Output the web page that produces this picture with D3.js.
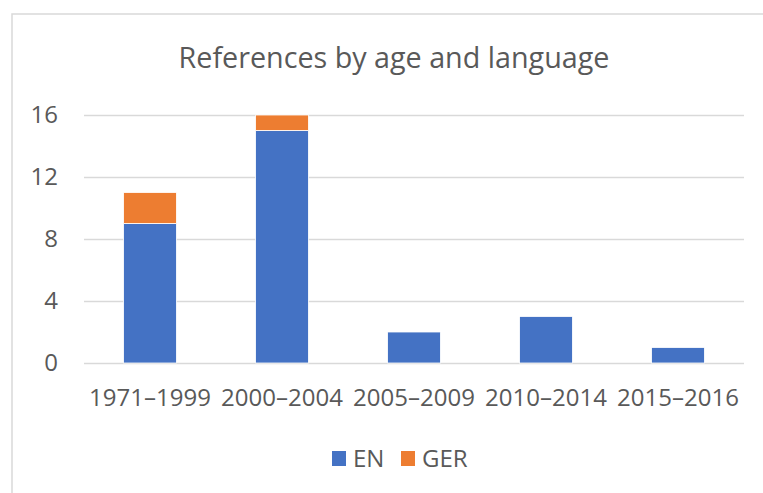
<!DOCTYPE html>
<html><head><meta charset="utf-8">
<script src="https://cdn.jsdelivr.net/npm/d3@7"></script>
<style>body{margin:0;background:#fff}svg{display:block}text{font-family:"Open Sans",sans-serif;fill:#595959}</style>
</head><body><svg id="c" width="763" height="493"></svg>
<script>
const categories = ["1971–1999","2000–2004","2005–2009","2010–2014","2015–2016"];
const seriesNames = ["EN","GER"];
const EN = [9,15,2,3,1];
const GER = [2,1,0,0,0];
const yTicks = [0,4,8,12,16];
const colors = ["#4472C4","#ED7D31"];

const svg = d3.select("#c");
svg.append("rect").attr("x",12).attr("y",14).attr("width",800).attr("height",600)
  .attr("fill","#fff").attr("stroke","#d9d9d9").attr("stroke-width",1.5);

const x = d3.scaleBand().domain(categories).range([84,744]).paddingInner(0.6).paddingOuter(0.3);
const y = d3.scaleLinear().domain([0,16]).range([363,115]);

const title = svg.append("text").attr("x",(84+744)/2 - 20).attr("y",68).attr("text-anchor","middle")
  .style("font-size","28px").text("References by age and language");
const tw = title.node().getComputedTextLength();
title.style("font-size",(28*431/tw)+"px");

const yAxis = svg.append("g").attr("transform","translate(84,0)")
  .call(d3.axisLeft(y).tickValues(yTicks).tickSize(-660).tickPadding(26));
yAxis.select(".domain").remove();
yAxis.selectAll("line").attr("stroke","#d9d9d9").attr("stroke-width",1.5);
yAxis.selectAll("text").style("font-size","24px").attr("font-family",null).attr("fill","#595959");

const xAxis = svg.append("g").attr("transform","translate(0,363)")
  .call(d3.axisBottom(x).tickSize(0).tickPadding(26));
xAxis.select(".domain").remove();
xAxis.selectAll("text").style("font-size","24px").attr("font-family",null).attr("fill","#595959");

const rows = categories.map((c,i)=>({cat:c,EN:EN[i],GER:GER[i]}));
const stacked = d3.stack().keys(seriesNames)(rows);
svg.append("g").selectAll("g").data(stacked).join("g").attr("fill",(d,i)=>colors[i])
  .selectAll("rect").data(d=>d.filter(e=>e[1]-e[0]>0)).join("rect")
  .attr("x",d=>x(d.data.cat)).attr("width",x.bandwidth())
  .attr("y",d=>y(d[1])).attr("height",d=>y(d[0])-y(d[1]))
  .attr("stroke","#ffffff").attr("stroke-width",0.8);

const leg = svg.append("g");
const legX = [332,401];
seriesNames.forEach((s,i)=>{
  leg.append("rect").attr("x",legX[i]).attr("y",451).attr("width",14).attr("height",15).attr("fill",colors[i]);
  leg.append("text").attr("x",legX[i]+21).attr("y",467).style("font-size","24px").text(s);
});
</script></body></html>
